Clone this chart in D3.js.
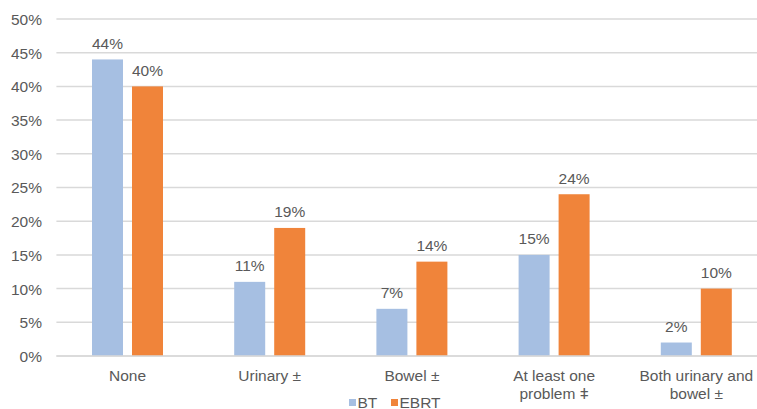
<!DOCTYPE html>
<html><head><meta charset="utf-8">
<script src="https://cdn.jsdelivr.net/npm/d3@7"></script>
<style>body{margin:0;background:#fff}svg{display:block}text{font-family:"Liberation Sans",Arial,sans-serif;fill:#595959}</style>
</head><body><svg id="c" width="757" height="409"></svg>
<script>
const categories = [["None"],["Urinary ±"],["Bowel ±"],["At least one","problem ǂ"],["Both urinary and","bowel ±"]];
const seriesNames = ["BT","EBRT"];
const btValues = [44,11,7,15,2];
const ebrtValues = [40,19,14,24,10];
const yTicks = [0,5,10,15,20,25,30,35,40,45,50];
const colors = {BT:"#A6BFE2", EBRT:"#F0843A"};

(function(){
const svg = d3.select("#c");
const W=757;
const pLeft=56.4, pRight=767.4, pTop=19, pBottom=356;
const keys = categories.map((c,i)=>i);
const x0 = d3.scaleBand().domain(keys).range([pLeft,pRight]).padding(0);
const x1 = d3.scaleBand().domain(seriesNames).range([35.6,106.6]).paddingInner(0.225).paddingOuter(0);
const y = d3.scaleLinear().domain([0,50]).range([pBottom,pTop]);
const fs = 15.5;

svg.append("g").selectAll("line").data(yTicks).join("line")
  .attr("x1",pLeft).attr("x2",W).attr("y1",d=>y(d)).attr("y2",d=>y(d))
  .attr("stroke","#D9D9D9").attr("stroke-width",1.5);

const yAxis = d3.axisLeft(y).tickValues(yTicks).tickFormat(d=>d+"%").tickSize(0).tickPadding(0);
const ga = svg.append("g").attr("transform",`translate(42,0)`).call(yAxis);
ga.select(".domain").remove();
ga.attr("font-family",null).attr("font-size",null);
ga.selectAll("text").attr("font-size",fs).style("fill","#595959").attr("dy","0.35em");

const data = keys.map(i=>({i, BT:btValues[i], EBRT:ebrtValues[i]}));
const g = svg.append("g").selectAll("g").data(data).join("g").attr("transform",d=>`translate(${x0(d.i)},0)`);
g.selectAll("rect").data(d=>seriesNames.map(s=>({s,v:d[s]}))).join("rect")
  .attr("x",d=>x1(d.s)).attr("width",x1.bandwidth())
  .attr("y",d=>y(d.v)).attr("height",d=>y(0)-y(d.v))
  .attr("fill",d=>colors[d.s]);
g.selectAll("text").data(d=>seriesNames.map(s=>({s,v:d[s]}))).join("text")
  .attr("x",d=>x1(d.s)+x1.bandwidth()/2).attr("y",d=>y(d.v)-10.5)
  .attr("text-anchor","middle").attr("font-size",fs).text(d=>d.v+"%");

svg.append("line").attr("x1",pLeft).attr("x2",W).attr("y1",y(0)).attr("y2",y(0)).attr("stroke","#D9D9D9").attr("stroke-width",1.5);

const xl = svg.append("g").selectAll("text").data(keys).join("text")
  .attr("text-anchor","middle").attr("font-size",fs)
  .attr("x",d=>x0(d)+x0.bandwidth()/2).attr("y",380.5);
xl.selectAll("tspan").data(d=>categories[d]).join("tspan")
  .attr("x",function(){return d3.select(this.parentNode).attr("x");})
  .attr("dy",(d,i)=>i===0?0:18.5).text(d=>d);

const legX = [349,391];
const lg = svg.append("g").selectAll("g").data(seriesNames).join("g")
  .attr("transform",(d,i)=>`translate(${legX[i]},0)`);
lg.append("rect").attr("x",0).attr("y",399).attr("width",7).attr("height",7).attr("fill",d=>colors[d]);
lg.append("text").attr("x",8.5).attr("y",407.5).attr("font-size",fs).text(d=>d);
})();
</script></body></html>
